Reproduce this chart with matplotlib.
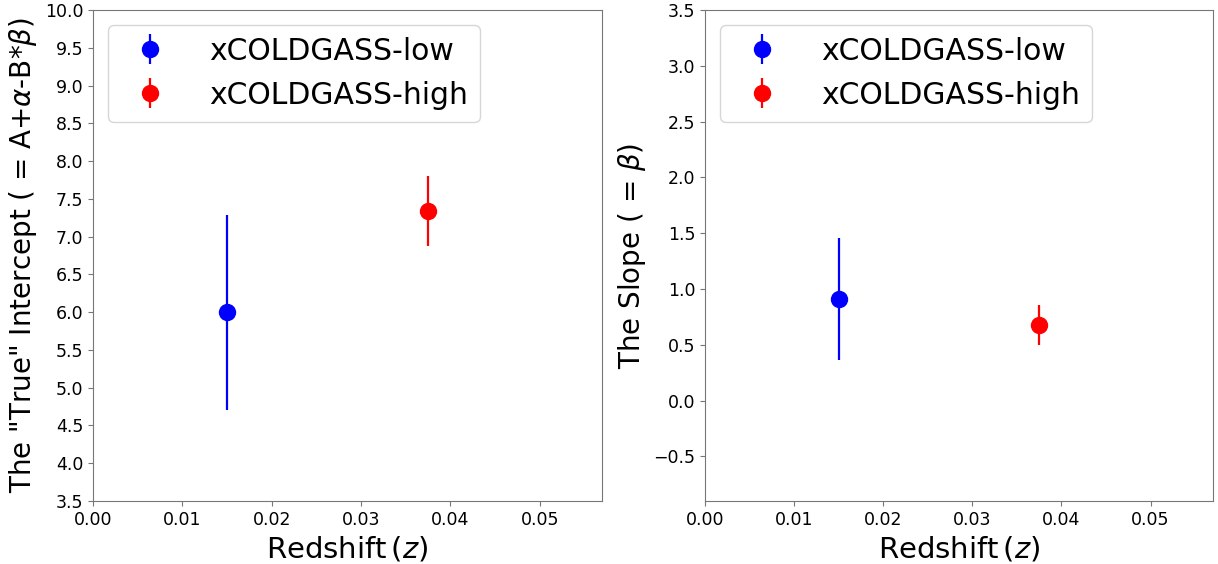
import matplotlib
matplotlib.use("Agg")
import matplotlib.pyplot as plt

# redshift of the two samples
z = [0.015, 0.0375]
labels = ["xCOLDGASS-low", "xCOLDGASS-high"]
colors = ["blue", "red"]

# true intercept and its error
intercept = [6.0, 7.34]
intercept_err = [1.29, 0.46]

# slope and its error
slope = [0.91, 0.68]
slope_err = [0.55, 0.18]

fig = plt.figure(figsize=(12.18, 5.64), dpi=100)
ax1 = fig.add_axes([0.0764, 0.1117, 0.418, 0.8706])
ax2 = fig.add_axes([0.5788, 0.1117, 0.417, 0.8706])


def panel(ax, y, yerr, ylim, yticks, ylabel):
    for i in range(len(z)):
        ax.errorbar(z[i], y[i], yerr=yerr[i], fmt='o', color=colors[i],
                    ms=11.5, elinewidth=1.6, capsize=0, label=labels[i])
    ax.set_xlim(0, 0.057)
    ax.set_ylim(*ylim)
    ax.set_yticks(yticks)
    ax.set_xticks([0.0, 0.01, 0.02, 0.03, 0.04, 0.05])
    ax.tick_params(labelsize=12.5, color='#777777')
    for s in ax.spines.values():
        s.set_color('#777777')
    ax.set_xlabel(r'Redshift$\,(z)$', fontsize=21)
    ax.set_ylabel(ylabel, fontsize=20)
    ax.legend(loc='upper left', fontsize=21.5, handletextpad=1.0,
              labelspacing=0.5)


panel(ax1, intercept, intercept_err, (3.5, 10.0),
      [3.5 + 0.5 * k for k in range(14)],
      r'The "True" Intercept ( = A+$\alpha$-B*$\beta$)')
panel(ax2, slope, slope_err, (-0.9, 3.5),
      [-0.5 + 0.5 * k for k in range(9)],
      r'The Slope ( = $\beta$)')

fig.savefig("out.png", dpi=100)
